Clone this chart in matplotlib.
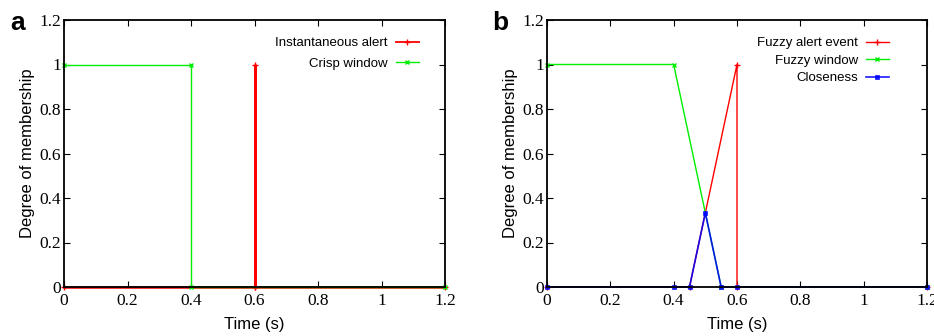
import numpy as np
import matplotlib.pyplot as plt

# panel a
alert_t = [0, 0.6, 0.6, 0.6, 1.2]
alert_v = [0, 0, 1, 0, 0]
crisp_t = [0, 0.4, 0.4, 1.2]
crisp_v = [1, 1, 0, 0]

# panel b
fuzzy_alert_t = [0, 0.45, 0.6, 0.6, 1.2]
fuzzy_alert_v = [0, 0, 1, 0, 0]
fuzzy_win_t = [0, 0.4, 0.55, 1.2]
fuzzy_win_v = [1, 1, 0, 0]
close_t = [0, 0.4, 0.45, 0.5, 0.55, 0.6, 1.2]
close_v = [0, 0, 0, 1/3, 0, 0, 0]

ticks = [0, 0.2, 0.4, 0.6, 0.8, 1, 1.2]
tick_labels = ['0', '0.2', '0.4', '0.6', '0.8', '1', '1.2']

plt.rcParams['font.family'] = 'Liberation Sans'

fig = plt.figure(figsize=(9.34, 3.36), dpi=100)
W, H = 934, 336
axA = fig.add_axes([64 / W, 1 - 287 / H, (445 - 64) / W, (287 - 20) / H])
axB = fig.add_axes([547 / W, 1 - 287 / H, (927 - 547) / W, (287 - 20) / H])


def style(ax):
    ax.set_xlim(0, 1.2)
    ax.set_ylim(0, 1.2)
    ax.set_xticks(ticks)
    ax.set_yticks(ticks)
    ax.set_xticklabels(tick_labels, family='Liberation Serif', fontsize=12.5)
    ax.set_yticklabels(tick_labels, family='Liberation Serif', fontsize=12.5)
    ax.tick_params(direction='in', top=True, right=True, length=4, width=0.8)
    ax.tick_params(axis='x', pad=4)
    ax.tick_params(axis='y', pad=2)
    for s in ax.spines.values():
        s.set_linewidth(1.3)
        s.set_zorder(5)
    ax.set_xlabel('Time (s)', fontsize=12, labelpad=6)
    ax.set_ylabel('Degree of membership', fontsize=12, labelpad=3)


axA.plot(alert_t, alert_v, color='#ff0000', lw=1.8, marker='+', ms=4, mew=1,
         label='Instantaneous alert', clip_on=False)
axA.plot(crisp_t, crisp_v, color='#00ee00', lw=1, marker='x', ms=3, mew=1,
         label='Crisp window', clip_on=False)
style(axA)
legA = axA.legend(loc='upper right', bbox_to_anchor=(419 / W, 1 - 37 / H),
                  bbox_transform=fig.transFigure, frameon=False, markerfirst=False,
                  fontsize=9.5, handlelength=1.75, handletextpad=0.6, borderaxespad=0,
                  borderpad=0, labelspacing=0.65)
legA.get_lines()[0].set_linewidth(1.3)

axB.plot(fuzzy_alert_t, fuzzy_alert_v, color='#ff0000', lw=1, marker='+', ms=4, mew=1,
         label='Fuzzy alert event', clip_on=False)
axB.plot(fuzzy_win_t, fuzzy_win_v, color='#00ee00', lw=1, marker='x', ms=3, mew=1,
         label='Fuzzy window', clip_on=False)
axB.plot(close_t, close_v, color='#0000ff', lw=1.2, marker='s', ms=3, mew=0.5,
         label='Closeness', clip_on=False, alpha=0.9)
style(axB)
axB.legend(loc='upper right', bbox_to_anchor=(889 / W, 1 - 37 / H),
           bbox_transform=fig.transFigure, frameon=False, markerfirst=False,
           fontsize=9.5, handlelength=1.75, handletextpad=0.6, borderaxespad=0,
           borderpad=0, labelspacing=0.4)

fig.text(10 / W, 1 - 30 / H, 'a', fontsize=19, fontweight='bold')
fig.text(492 / W, 1 - 30 / H, 'b', fontsize=19, fontweight='bold')

fig.savefig('out.png', dpi=100)
